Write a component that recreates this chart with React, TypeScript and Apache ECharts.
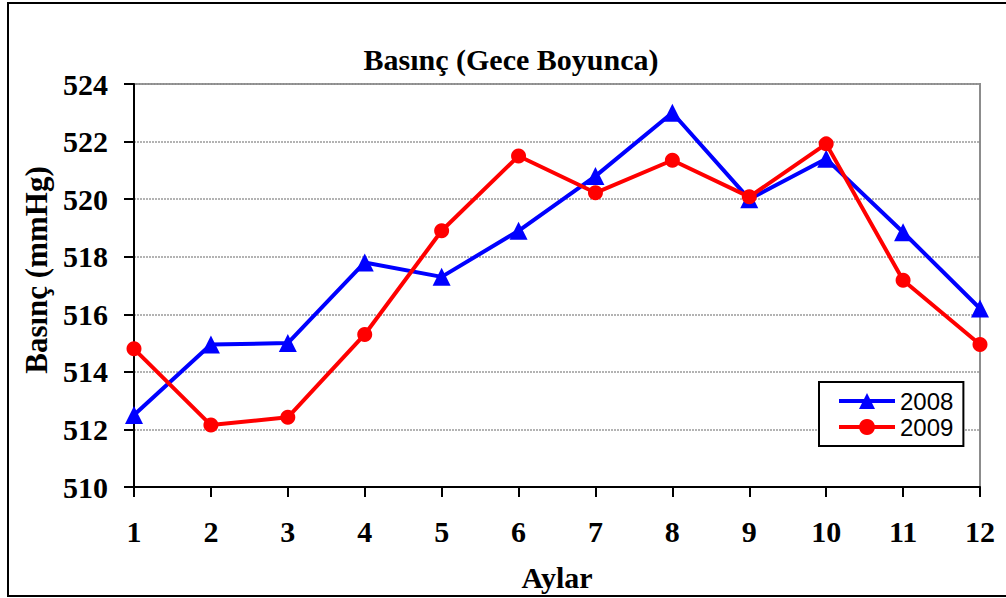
import React, { useEffect, useRef } from "react";
import * as echarts from "echarts";

const months = ["1", "2", "3", "4", "5", "6", "7", "8", "9", "10", "11", "12"];
const series2008 = [512.5, 514.95, 515.0, 517.8, 517.3, 518.9, 520.8, 523.0, 520.0, 521.4, 518.85, 516.2];
const series2009 = [514.8, 512.15, 512.42, 515.3, 518.9, 521.5, 520.22, 521.35, 520.08, 521.92, 517.18, 514.95];
const yMin = 510;
const yMax = 524;
const yStep = 2;

const serif = "'Liberation Serif', 'Times New Roman', serif";
const sans = "'Liberation Sans', Arial, sans-serif";

export default function App() {
  const ref = useRef<HTMLDivElement>(null);
  useEffect(() => {
    if (!ref.current) return;
    const chart = echarts.init(ref.current, undefined, { renderer: "svg" });
    chart.setOption({
      animation: false,
      backgroundColor: "#ffffff",
      title: {
        text: "Basınç (Gece Boyunca)",
        left: 511,
        textAlign: "center",
        top: 44,
        padding: 0,
        textStyle: { fontFamily: serif, fontWeight: "bold", fontSize: 30, color: "#000" },
      },
      graphic: [
        {
          type: "rect",
          shape: { x: 8, y: 3, width: 1010, height: 593 },
          style: { fill: "none", stroke: "#000", lineWidth: 2 },
          silent: true,
          z: 100,
        },
        {
          type: "text",
          x: 36,
          y: 270,
          rotation: Math.PI / 2,
          style: {
            text: "Basınç (mmHg)",
            textAlign: "center",
            textVerticalAlign: "middle",
            fontFamily: serif,
            fontWeight: "bold",
            fontSize: 31,
            fill: "#000",
          },
        },
      ],
      legend: {
        left: 819,
        top: 382,
        orient: "vertical",
        padding: [6, 10, 6, 18],
        itemWidth: 56,
        itemHeight: 20,
        itemGap: 0,
        borderColor: "#000",
        borderWidth: 2,
        backgroundColor: "#fff",
        lineStyle: { width: 4 },
        textStyle: { fontFamily: sans, fontSize: 24, color: "#000", lineHeight: 26 },
        data: ["2008", "2009"],
      },
      grid: {
        left: 134,
        right: 26,
        top: 84,
        bottom: 111,
        show: true,
        borderColor: "#8c8c8c",
        borderWidth: 2,
        backgroundColor: "#fff",
      },
      xAxis: {
        type: "category",
        data: months,
        boundaryGap: false,
        name: "Aylar",
        nameLocation: "middle",
        nameGap: 75,
        nameTextStyle: { fontFamily: serif, fontWeight: "bold", fontSize: 30, color: "#000" },
        axisLine: { show: true, lineStyle: { color: "#000", width: 2 } },
        axisTick: { show: true, alignWithLabel: true, length: 10, lineStyle: { color: "#000", width: 2 } },
        axisLabel: { margin: 29, fontFamily: serif, fontWeight: "bold", fontSize: 30, color: "#000" },
        splitLine: { show: false },
      },
      yAxis: {
        type: "value",
        min: yMin,
        max: yMax,
        interval: yStep,
        axisLine: { show: true, lineStyle: { color: "#000", width: 2 } },
        axisTick: { show: true, length: 10, lineStyle: { color: "#000", width: 2 } },
        axisLabel: { margin: 26, fontFamily: serif, fontWeight: "bold", fontSize: 30, color: "#000" },
        splitLine: { show: true, lineStyle: { color: "#9a9a9a", width: 1.5, type: [2, 1] } },
      },
      series: [
        {
          name: "2008",
          type: "line",
          data: series2008,
          symbol: "triangle",
          symbolSize: 18,
          lineStyle: { color: "#0000ff", width: 4 },
          itemStyle: { color: "#0000ff" },
          z: 2,
        },
        {
          name: "2009",
          type: "line",
          data: series2009,
          symbol: "circle",
          symbolSize: 15,
          lineStyle: { color: "#ff0000", width: 4 },
          itemStyle: { color: "#ff0000" },
          z: 3,
        },
      ],
    });
    return () => chart.dispose();
  }, []);
  return (
    <div
      ref={ref}
      style={{ position: "fixed", left: 0, top: 0, width: 1006, height: 598 }}
    />
  );
}
